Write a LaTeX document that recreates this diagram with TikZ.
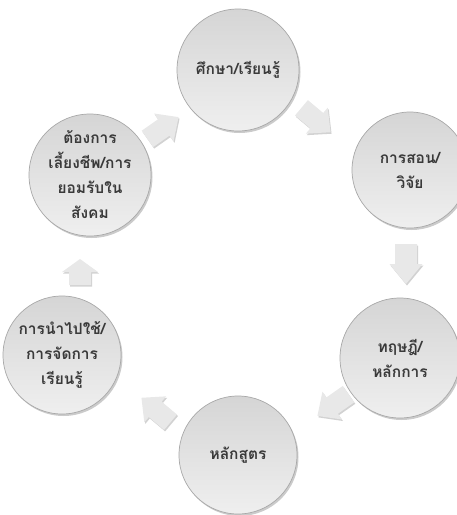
\documentclass[tikz,border=0pt]{standalone}
\usepackage{fontspec}
\newfontfamily\thai[Script=Thai]{Loma}
\definecolor{ctop}{HTML}{D5D5D5}
\definecolor{cbot}{HTML}{EFEFEF}
\definecolor{cborder}{HTML}{A8A8A8}
\definecolor{cshadow}{HTML}{B5B5B5}
\definecolor{textcol}{HTML}{3A3A3A}
\definecolor{afill}{HTML}{E8E8E8}
\definecolor{ashadow}{HTML}{D2D2D2}
\begin{document}
\begin{tikzpicture}[x=1pt,y=-1pt,
  circ/.style={circle, draw=cborder, line width=0.7pt, top color=ctop, bottom color=cbot,
    minimum size=#1, inner sep=0pt, align=center, text=textcol,
    font=\thai\bfseries\fontsize{15.5}{25}\selectfont},
  circshadow/.style={circle, fill=cshadow, minimum size=#1, inner sep=0pt, opacity=0.7},
]
\useasboundingbox (0,0) rectangle (457,515);
% block arrow: center, rotation (counterclockwise), length, head width, body width, head length
\newcommand{\arrowpath}[4]{(-#1/2,-#3/2) -- ++({#1-#4},0) -- ++(0,{-(#2-#3)/2}) -- ++(#4,{#2/2}) -- ++({-#4},{#2/2}) -- ++(0,{-(#2-#3)/2}) -- ++({-(#1-#4)},0) -- cycle}
\newcommand{\blockarrow}[6]{%
  \begin{scope}[shift={#1}]
    \begin{scope}[shift={(1,1.5)}, rotate=#2]
      \fill[ashadow] \arrowpath{#3}{#4}{#5}{#6};
    \end{scope}
    \begin{scope}[rotate=#2]
      \fill[afill] \arrowpath{#3}{#4}{#5}{#6};
    \end{scope}
  \end{scope}}
% shadows
\node[circshadow=122] at (239.5,72) {};
\node[circshadow=116] at (411.5,172) {};
\node[circshadow=120] at (401.5,360) {};
\node[circshadow=118] at (239.5,457) {};
\node[circshadow=118] at (63.5,357) {};
\node[circshadow=122] at (91.5,177) {};
% circles
\node[circ=122] (c1) at (238,70) {ศึกษา/เรียนรู้};
\node[circ=116] (c2) at (410,170) {การสอน/\\วิจัย};
\node[circ=120] (c3) at (400,358) {ทฤษฎี/\\หลักการ};
\node[circ=118] (c4) at (238,455) {หลักสูตร};
\node[circ=118] (c5) at (62,355) {การนำไปใช้/\\การจัดการ\\เรียนรู้};
\node[circ=122] (c6) at (90,175) {ต้องการ\\เลี้ยงชีพ/การ\\ยอมรับใน\\สังคม};
% arrows
\blockarrow{(163,128)}{35}{38}{34}{20}{18}
\blockarrow{(316,120)}{-40}{38}{34}{20}{18}
\blockarrow{(406,264)}{-90}{40}{33}{22}{20}
\blockarrow{(333,405)}{-145}{38}{34}{20}{18}
\blockarrow{(156,410)}{140}{38}{34}{20}{18}
\blockarrow{(80,272)}{90}{26}{36}{22}{13}
\end{tikzpicture}
\end{document}
